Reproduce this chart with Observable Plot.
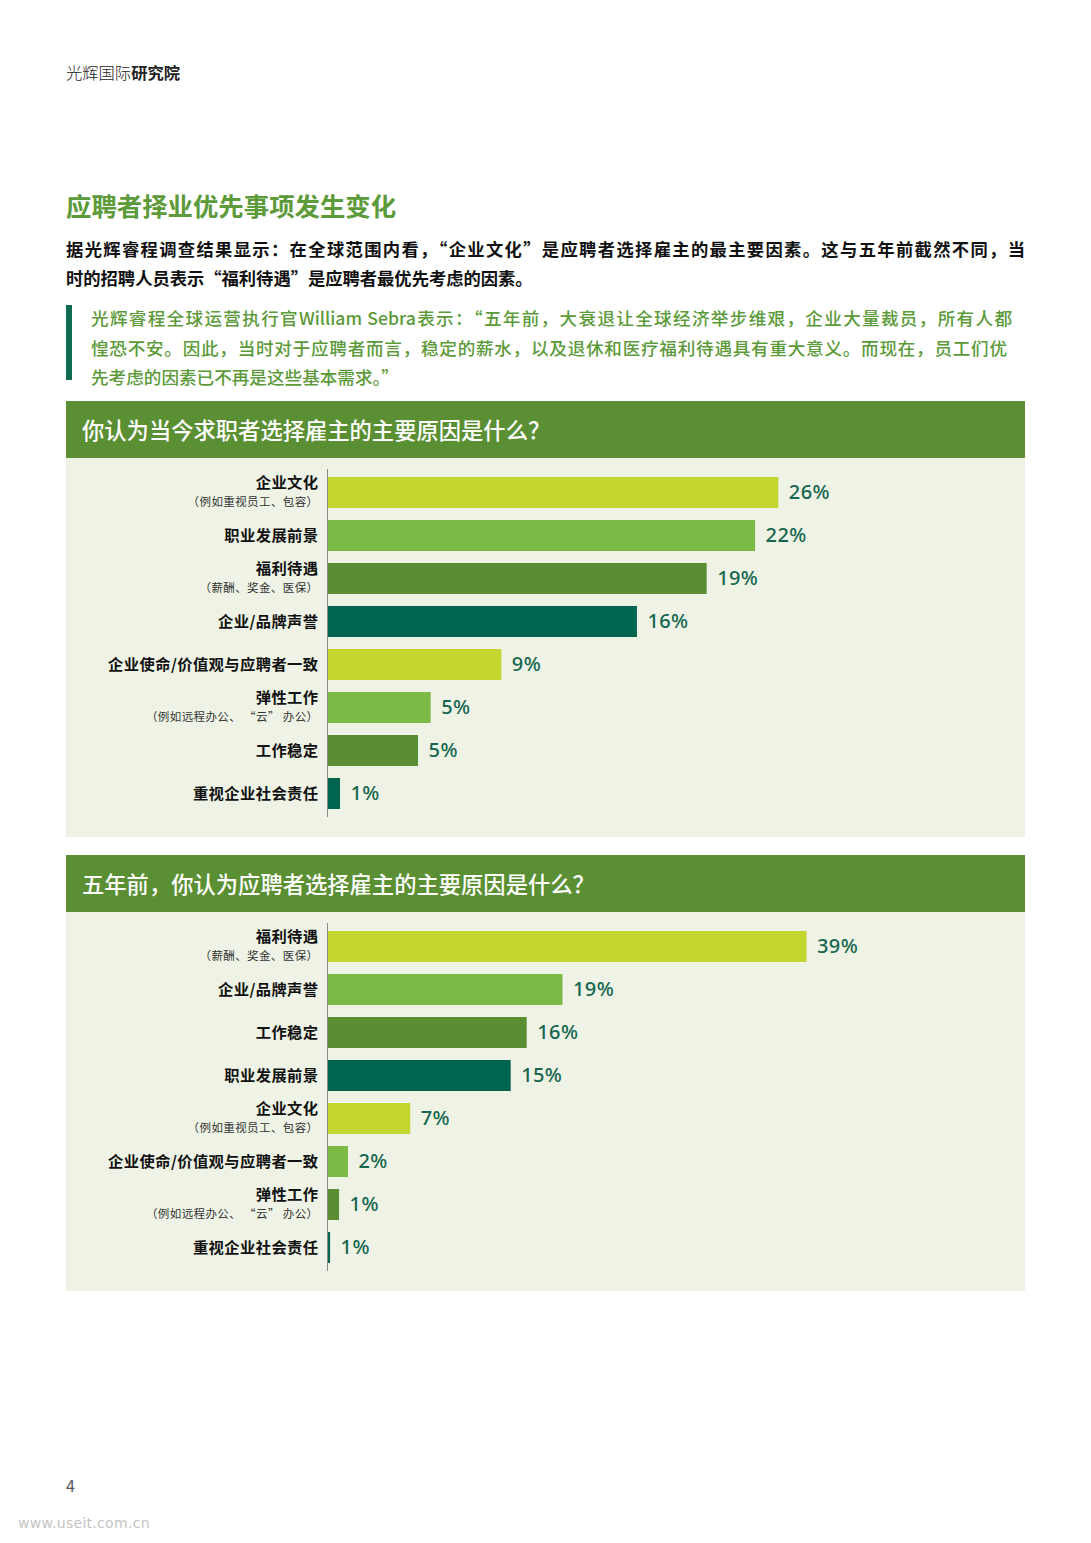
<!DOCTYPE html>
<html>
<head>
<meta charset="utf-8">
<script src="https://cdn.jsdelivr.net/npm/d3@7"></script>
<script src="https://cdn.jsdelivr.net/npm/@observablehq/plot@0.6"></script>
<style>
  html, body { margin: 0; padding: 0; background: #fff; }
  body { width: 1091px; height: 1543px; position: relative; font-family: "Noto Sans CJK SC", "Noto Sans", sans-serif; color: #1a1a1a; }
  .abs { position: absolute; }
  .jl { text-align: justify; text-align-last: justify; }
  .hdr { left: 66px; width: 959px; height: 57px; background: #5A8F33; color: #fff; font-size: 22.3px; font-weight: 500; line-height: 57px; box-sizing: border-box; padding-left: 16px; }
  .panel { left: 66px; width: 959px; height: 379px; background: #EEF3E6; }
  .panel svg text { letter-spacing: 0.4px; }
</style>
</head>
<body>
<div class="abs" style="left:66px; top:61px; font-size:16.3px; line-height:22px; color:#222;"><span style="font-weight:300">光辉国际</span><b>研究院</b></div>

<div class="abs" style="left:66px; top:189px; font-size:25.4px; font-weight:700; line-height:32px; color:#5C9A3A;">应聘者择业优先事项发生变化</div>

<div class="abs" style="left:66px; top:234px; width:959px; font-size:17.3px; font-weight:700; line-height:29px; color:#111;">
  <div class="jl">据光辉睿程调查结果显示：在全球范围内看，“企业文化”是应聘者选择雇主的最主要因素。这与五年前截然不同，当</div>
  <div>时的招聘人员表示“福利待遇”是应聘者最优先考虑的因素。</div>
</div>

<div class="abs" style="left:66px; top:305px; width:6px; height:75px; background:#0E6B4F;"></div>
<div class="abs" style="left:91px; top:303px; width:921px; font-size:17.6px; font-weight:500; line-height:29.5px; color:#5C9A3A;">
  <div class="jl">光辉睿程全球运营执行官William Sebra表示：“五年前，大衰退让全球经济举步维艰，企业大量裁员，所有人都</div>
  <div class="jl" style="width:916px;">惶恐不安。因此，当时对于应聘者而言，稳定的薪水，以及退休和医疗福利待遇具有重大意义。而现在，员工们优</div>
  <div>先考虑的因素已不再是这些基本需求。”</div>
</div>

<div class="abs hdr" style="top:401px;">你认为当今求职者选择雇主的主要原因是什么？</div>
<div class="abs panel" id="chart1" style="top:458px;"></div>

<div class="abs hdr" style="top:855px;">五年前，你认为应聘者选择雇主的主要原因是什么？</div>
<div class="abs panel" id="chart2" style="top:912px;"></div>

<div class="abs" style="left:66px; top:1473px; font-size:16px; color:#555;">4</div>
<div class="abs" style="left:18px; top:1515px; font-size:14px; color:#c4c4c4; font-family:'DejaVu Sans', sans-serif; letter-spacing:0.3px;">www.useit.com.cn</div>

<script>
// ---- Data ----
const colors = ["#C3D52F", "#7BBA44", "#5A8E33", "#00654F"];

// Chart 1: today
const cats1 = ["企业文化", "职业发展前景", "福利待遇", "企业/品牌声誉", "企业使命/价值观与应聘者一致", "弹性工作", "工作稳定", "重视企业社会责任"];
const subs1 = ["（例如重视员工、包容）", "", "（薪酬、奖金、医保）", "", "", "（例如远程办公、 “云” 办公）", "", ""];
const pct1 = [26, 22, 19, 16, 9, 5, 5, 1];
// bar lengths as drawn in the picture (percentage units)
const bar1 = [23.3, 22.1, 19.6, 16, 9, 5.35, 4.7, 0.67];

// Chart 2: five years ago
const cats2 = ["福利待遇", "企业/品牌声誉", "工作稳定", "职业发展前景", "企业文化", "企业使命/价值观与应聘者一致", "弹性工作", "重视企业社会责任"];
const subs2 = ["（薪酬、奖金、医保）", "", "", "", "（例如重视员工、包容）", "", "（例如远程办公、 “云” 办公）", ""];
const pct2 = [39, 19, 16, 15, 7, 2, 1, 1];
const bar2 = [38.9, 19.1, 16.2, 14.9, 6.75, 1.7, 0.98, 0.25];

function makeChart(cats, subs, pct, bars, xMax) {
  const data = cats.map((c, i) => ({cat: c, sub: subs[i], pct: pct[i], bar: bars[i], color: colors[i % 4]}));
  const withSub = data.filter(d => d.sub);
  const noSub = data.filter(d => !d.sub);
  const mainStyle = {x: 0, y: "cat", text: "cat", dx: -9, textAnchor: "end", fill: "#111", fontSize: 15.3, fontWeight: 700};
  return Plot.plot({
    width: 959,
    height: 379,
    marginLeft: 261,
    marginRight: 20,
    marginTop: 11,
    marginBottom: 20,
    style: {background: "transparent", fontFamily: "'Noto Sans CJK SC', sans-serif"},
    x: {domain: [0, xMax], axis: null},
    y: {domain: cats, axis: null, paddingInner: 0.29, paddingOuter: 0.14},
    marks: [
      Plot.barX(data, {x: "bar", y: "cat", fill: "color"}),
      Plot.ruleX([0], {stroke: "#8a8a8a", strokeWidth: 1}),
      Plot.text(data, {x: "bar", y: "cat", text: d => d.pct + "%", dx: 10, textAnchor: "start", fill: "#16664F", fontSize: 20, fontWeight: 500, fontFamily: "'Noto Sans', sans-serif"}),
      Plot.text(noSub, {...mainStyle, dy: 0}),
      Plot.text(withSub, {...mainStyle, dy: -10}),
      Plot.text(withSub, {x: 0, y: "cat", text: "sub", dx: -9, dy: 9.5, textAnchor: "end", fill: "#333", fontSize: 11.5})
    ]
  });
}

document.getElementById("chart1").append(makeChart(cats1, subs1, pct1, bar1, 35));
document.getElementById("chart2").append(makeChart(cats2, subs2, pct2, bar2, 55));
</script>
</body>
</html>
